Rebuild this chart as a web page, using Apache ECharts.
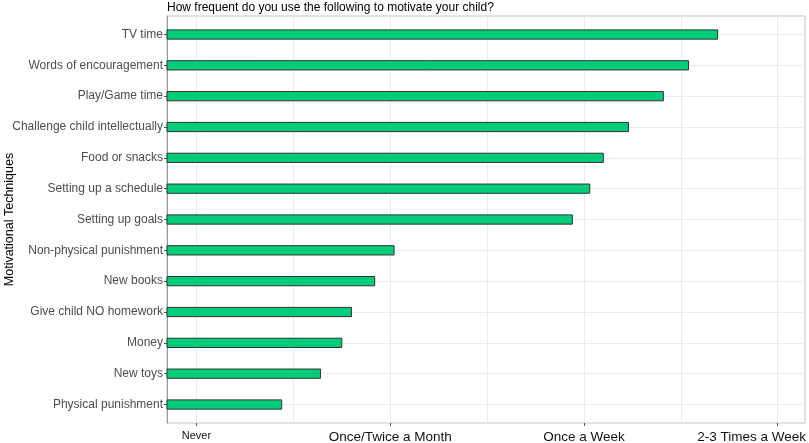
<!DOCTYPE html>
<html>
<head>
<meta charset="utf-8">
<script src="https://cdn.jsdelivr.net/npm/echarts@6/dist/echarts.min.js"></script>
<style>
  html, body { margin: 0; padding: 0; background: #fff; }
  #chart { width: 809px; height: 443px; }
</style>
</head>
<body>
<div id="chart"></div>
<script>
// motivational techniques, top to bottom
var techniques = ['TV time', 'Words of encouragement', 'Play/Game time', 'Challenge child intellectually',
  'Food or snacks', 'Setting up a schedule', 'Setting up goals', 'Non-physical punishment',
  'New books', 'Give child NO homework', 'Money', 'New toys', 'Physical punishment'];
// mean frequency (0 = Never ... 3 = 2-3 Times a Week)
var frequency = [2.69, 2.54, 2.41, 2.23, 2.10, 2.03, 1.94, 1.02, 0.92, 0.80, 0.75, 0.64, 0.44];
var freqLabels = ['Never', 'Once/Twice a Month', 'Once a Week', '2-3 Times a Week'];
var freqTicks = [0, 1, 2, 3];
var gridTicks = [0, 0.5, 1, 1.5, 2, 2.5, 3];

var xMin = -0.152, xMax = 3.141;
var barWidth = 0.3;
var rowTicks = techniques.map(function (t, i) { return i; });

var chart = echarts.init(document.getElementById('chart'));

chart.setOption({
  animation: false,
  textStyle: { fontFamily: 'Liberation Sans, Arial, sans-serif' },
  title: {
    text: 'How frequent do you use the following to motivate your child?',
    left: 167,
    top: 2,
    padding: 0,
    textStyle: { fontSize: 12, fontWeight: 'normal', color: '#000' }
  },
  grid: {
    left: 167, right: 4, top: 16, bottom: 20,
    outerBoundsMode: 'none',
    containLabel: false,
    show: true,
    borderColor: '#c4c4c4',
    borderWidth: 1
  },
  xAxis: [{
    type: 'value',
    min: xMin, max: xMax,
    axisLine: { show: false },
    axisTick: { show: false, customValues: gridTicks },
    axisLabel: { show: false },
    splitLine: { show: true, lineStyle: { color: '#ececec', width: 1 } }
  }, {
    type: 'value',
    min: xMin, max: xMax,
    position: 'bottom',
    axisLine: { show: false },
    axisTick: { show: true, length: 3, customValues: freqTicks, lineStyle: { color: '#555' } },
    axisLabel: {
      customValues: freqTicks,
      margin: 7,
      formatter: function (v) {
        var s = freqLabels[Math.round(v)];
        if (v === 0) return '{s|' + s + '}';
        if (v === 3) return '{e|' + s + '}';
        return '{b|' + s + '}';
      },
      rich: {
        s: { fontSize: 11, color: '#111', fontFamily: 'Liberation Sans, Arial, sans-serif' },
        b: { fontSize: 13.5, color: '#111', fontFamily: 'Liberation Sans, Arial, sans-serif' },
        e: { fontSize: 13.5, color: '#111', fontFamily: 'Liberation Sans, Arial, sans-serif', padding: [0, 52, 0, 0] }
      }
    },
    splitLine: { show: false }
  }],
  yAxis: {
    type: 'value',
    inverse: true,
    min: -0.6, max: 12.6,
    name: 'Motivational Techniques',
    nameLocation: 'middle',
    nameRotate: 90,
    nameGap: 151,
    nameMoveOverlap: false,
    nameTextStyle: { fontSize: 12.5, color: '#000' },
    axisLine: { show: true, onZero: false, lineStyle: { color: '#9a9a9a' } },
    axisTick: { show: true, length: 3, customValues: rowTicks, lineStyle: { color: '#555' } },
    axisLabel: {
      customValues: rowTicks,
      margin: 4,
      fontSize: 12,
      color: '#4d4d4d',
      formatter: function (v) { return techniques[Math.round(v)]; }
    },
    splitLine: { show: true, lineStyle: { color: '#ececec', width: 1 } }
  },
  series: [{
    type: 'custom',
    xAxisIndex: 0,
    encode: { x: 0, y: 1 },
    data: frequency.map(function (v, i) { return [v, i]; }),
    renderItem: function (params, api) {
      var row = api.value(1);
      var p0 = api.coord([xMin, row]);
      var p1 = api.coord([api.value(0), row]);
      var h = api.size([0, barWidth])[1];
      return {
        type: 'rect',
        shape: { x: p0[0], y: p0[1] - h / 2, width: p1[0] - p0[0], height: h },
        style: { fill: '#00cc7a', stroke: '#333', lineWidth: 1 }
      };
    }
  }]
});
</script>
</body>
</html>
